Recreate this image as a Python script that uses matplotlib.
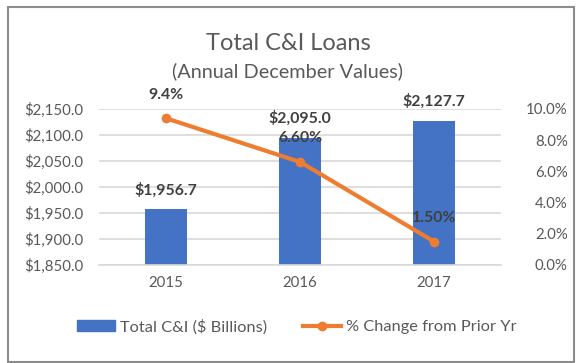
import numpy as np
import matplotlib.pyplot as plt
from matplotlib.patches import Rectangle
from matplotlib.ticker import FuncFormatter, MultipleLocator

# Data
years = ["2015", "2016", "2017"]
loans = [1956.7, 2095.0, 2127.7]           # $ billions
pct_change = [9.4, 6.6, 1.5]               # % change from prior year
pct_labels = ["9.4%", "6.60%", "1.50%"]

plt.rcParams['font.family'] = ['Lato', 'DejaVu Sans']

blue = "#4472C4"
orange = "#ED7D31"
gray_txt = "#595959"
dark_txt = "#404040"

fig = plt.figure(figsize=(5.76, 3.63), dpi=100)
ax = fig.add_axes([0.172, 0.270, 0.698, 0.430])
ax2 = ax.twinx()

x = np.arange(len(years))

# Bars
ax.bar(x, loans, width=0.31, color=blue, zorder=2)
ax.set_ylim(1850, 2150)
ax.set_xlim(-0.5, 2.5)
ax.yaxis.set_major_locator(MultipleLocator(50))
ax.yaxis.set_major_formatter(FuncFormatter(lambda v, p: "${:,.1f}".format(v)))
ax.grid(axis='y', color="#D9D9D9", linewidth=1.2, zorder=0)
ax.set_axisbelow(True)
ax.set_xticks(x)
ax.set_xticklabels(years)
ax.tick_params(axis='y', length=0, pad=11, labelsize=10.8, labelcolor=gray_txt)
ax.tick_params(axis='x', length=0, pad=8, labelsize=10.8, labelcolor=gray_txt)
for s in ax.spines.values():
    s.set_visible(False)
ax.spines['bottom'].set_visible(True)
ax.spines['bottom'].set_color("#D9D9D9")
ax.spines['bottom'].set_linewidth(1.2)

for xi, v in zip(x, loans):
    ax.annotate("${:,.1f}".format(v), (xi, v), xytext=(0, 14), textcoords='offset points',
                ha='center', va='center', fontsize=11.4, fontweight='bold', color=dark_txt)

# Line
ax2.plot(x, pct_change, color=orange, linewidth=3, marker='o', markersize=6, zorder=3,
         solid_capstyle='round')
ax2.set_ylim(0, 10)
ax2.yaxis.set_major_locator(MultipleLocator(2))
ax2.yaxis.set_major_formatter(FuncFormatter(lambda v, p: "{:.1f}%".format(v)))
ax2.tick_params(axis='y', length=0, pad=48, labelsize=10.8, labelcolor=gray_txt)
for lbl in ax2.get_yticklabels():
    lbl.set_horizontalalignment('right')
for s in ax2.spines.values():
    s.set_visible(False)

for xi, v, t in zip(x, pct_change, pct_labels):
    ax2.annotate(t, (xi, v), xytext=(0, 17), textcoords='offset points',
                 ha='center', va='center', fontsize=11.4, fontweight='bold', color=dark_txt)

# Titles
fig.text(0.5, 0.880, "Total C&I Loans", ha='center', va='center', fontsize=17, color=gray_txt)
fig.text(0.5, 0.803, "(Annual December Values)", ha='center', va='center', fontsize=14.3, color=gray_txt)

# Legend
h1 = plt.Rectangle((0, 0), 1, 1, color=blue)
h2, = ax2.plot([], [], color=orange, linewidth=3, marker='o', markersize=6)
fig.legend([h1, h2], ["Total C&I ($ Billions)", "% Change from Prior Yr"],
           loc='center', bbox_to_anchor=(0.515, 0.10), ncol=2, frameon=False,
           fontsize=11.8, labelcolor=gray_txt, handlelength=2.3, columnspacing=2.2,
           handletextpad=0.3)

# Chart border
fig.patches.append(Rectangle((0.014, 0.004), 0.982, 0.976, transform=fig.transFigure,
                             fill=False, edgecolor="#8C8C8C", linewidth=1.5))

plt.savefig("out.png", dpi=100)
